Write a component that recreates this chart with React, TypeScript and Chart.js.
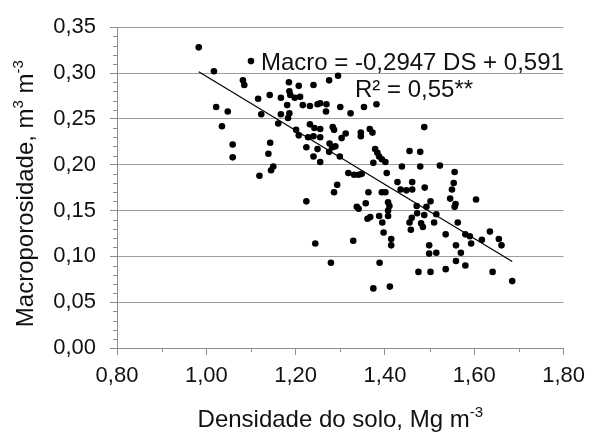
import React, { useEffect, useRef } from "react";
import { Chart, registerables } from "chart.js";

Chart.register(...registerables);

// Densidade do solo (Mg m-3)
const densidade = [
  0.983, 1.100, 1.017, 1.082, 1.085, 1.185, 1.207, 1.240, 1.275, 1.295,
  1.116, 1.142, 1.167, 1.186, 1.188, 1.198, 1.210, 1.181, 1.216, 1.232,
  1.249, 1.255, 1.269, 1.268, 1.022, 1.048, 1.123, 1.167, 1.186, 1.183,
  1.161, 1.035, 1.201, 1.207, 1.232, 1.242, 1.255, 1.283, 1.286, 1.228,
  1.240, 1.255, 1.224, 1.249, 1.240, 1.255, 1.276, 1.282, 1.289, 1.275,
  1.299, 1.059, 1.059, 1.143, 1.139, 1.150, 1.145, 1.119, 1.224, 1.244,
  1.279, 1.293, 1.286, 1.300, 1.323, 1.353, 1.381, 1.312, 1.303, 1.346,
  1.346, 1.366, 1.372, 1.488, 1.378, 1.383, 1.387, 1.393, 1.401, 1.374,
  1.455, 1.479, 1.404, 1.438, 1.479, 1.523, 1.556, 1.318, 1.331, 1.341,
  1.348, 1.428, 1.461, 1.489, 1.435, 1.448, 1.461, 1.363, 1.393, 1.401,
  1.357, 1.407, 1.410, 1.407, 1.337, 1.341, 1.471, 1.502, 1.493, 1.367,
  1.361, 1.387, 1.407, 1.394, 1.472, 1.460, 1.455, 1.488, 1.481, 1.485,
  1.458, 1.515, 1.510, 1.397, 1.329, 1.414, 1.414, 1.499, 1.499, 1.515,
  1.388, 1.475, 1.502, 1.374, 1.411, 1.554, 1.550, 1.546, 1.558, 1.556,
  1.604, 1.563, 1.536, 1.580, 1.590, 1.593, 1.617, 1.635, 1.655, 1.661,
  1.559, 1.570, 1.536, 1.559, 1.580, 1.641, 1.685,
];

// Macroporosidade (m3 m-3)
const macro = [
  0.328, 0.313, 0.302, 0.292, 0.287, 0.290, 0.286, 0.287, 0.292, 0.297,
  0.272, 0.276, 0.273, 0.280, 0.276, 0.273, 0.274, 0.265, 0.265, 0.264,
  0.266, 0.267, 0.266, 0.258, 0.263, 0.258, 0.255, 0.255, 0.256, 0.251,
  0.245, 0.242, 0.238, 0.232, 0.244, 0.240, 0.239, 0.241, 0.238, 0.230,
  0.231, 0.230, 0.219, 0.217, 0.209, 0.203, 0.223, 0.219, 0.220, 0.214,
  0.209, 0.222, 0.208, 0.224, 0.212, 0.198, 0.194, 0.188, 0.160, 0.114,
  0.093, 0.178, 0.170, 0.263, 0.256, 0.263, 0.266, 0.234, 0.229, 0.235,
  0.231, 0.239, 0.235, 0.241, 0.217, 0.213, 0.209, 0.206, 0.203, 0.202,
  0.215, 0.214, 0.191, 0.198, 0.198, 0.199, 0.192, 0.191, 0.189, 0.189,
  0.190, 0.181, 0.181, 0.175, 0.173, 0.172, 0.173, 0.170, 0.170, 0.170,
  0.158, 0.159, 0.155, 0.150, 0.154, 0.152, 0.155, 0.160, 0.154, 0.143,
  0.141, 0.144, 0.144, 0.137, 0.147, 0.142, 0.137, 0.145, 0.136, 0.132,
  0.129, 0.146, 0.137, 0.126, 0.117, 0.119, 0.112, 0.112, 0.103, 0.104,
  0.093, 0.083, 0.083, 0.065, 0.067, 0.180, 0.173, 0.163, 0.157, 0.154,
  0.162, 0.137, 0.124, 0.124, 0.122, 0.114, 0.118, 0.127, 0.119, 0.112,
  0.112, 0.104, 0.086, 0.095, 0.090, 0.083, 0.073,
];

// Linear trend: Macro = -0,2947 DS + 0,591
const trendSlope = -0.2947;
const trendIntercept = 0.591;

const xAxisRange = [0.8, 1.8];
const xAxisStep = 0.2;
const xMinorStep = 0.1;
const yAxisRange = [0, 0.35];
const yAxisStep = 0.05;
const yMinorStep = 0.01;

const equationLine = "Macro = -0,2947 DS + 0,591";
const r2Line = "R² = 0,55**";
const xTitleParts = [
  { t: "Densidade do solo, Mg m", sup: false },
  { t: "-3", sup: true },
];
const yTitleParts = [
  { t: "Macroporosidade, m", sup: false },
  { t: "3", sup: true },
  { t: " m", sup: false },
  { t: "-3", sup: true },
];

const FONT = '"Liberation Sans", Arial, sans-serif';
const AXIS_COLOR = "#8e8e8e";
const GRID_COLOR = "#9d9d9d";
const TEXT_COLOR = "#111111";

type Part = { t: string; sup: boolean };

function richWidth(ctx: CanvasRenderingContext2D, parts: Part[], size: number) {
  let w = 0;
  for (const p of parts) {
    ctx.font = `${p.sup ? Math.round(size * 0.62) : size}px ${FONT}`;
    w += ctx.measureText(p.t).width;
  }
  return w;
}

function drawRich(ctx: CanvasRenderingContext2D, parts: Part[], x: number, y: number, size: number) {
  let cx = x;
  for (const p of parts) {
    const s = p.sup ? Math.round(size * 0.62) : size;
    ctx.font = `${s}px ${FONT}`;
    ctx.fillText(p.t, cx, p.sup ? y - size * 0.4 : y);
    cx += ctx.measureText(p.t).width;
  }
}

const fmt = (v: number) => v.toFixed(2).replace(".", ",");

const decorPlugin = {
  id: "decor",
  afterDraw(chart: any) {
    const ctx: CanvasRenderingContext2D = chart.ctx;
    const xs = chart.scales.x;
    const ys = chart.scales.y;
    const a = chart.chartArea;
    ctx.save();
    // minor ticks
    ctx.strokeStyle = AXIS_COLOR;
    ctx.lineWidth = 1;
    const nY = Math.round((yAxisRange[1] - yAxisRange[0]) / yMinorStep);
    for (let i = 0; i <= nY; i++) {
      if (i % Math.round(yAxisStep / yMinorStep) === 0) continue;
      const py = Math.round(ys.getPixelForValue(yAxisRange[0] + i * yMinorStep)) + 0.5;
      ctx.beginPath();
      ctx.moveTo(a.left - 4, py);
      ctx.lineTo(a.left, py);
      ctx.stroke();
    }
    const nX = Math.round((xAxisRange[1] - xAxisRange[0]) / xMinorStep);
    for (let i = 0; i <= nX; i++) {
      if (i % Math.round(xAxisStep / xMinorStep) === 0) continue;
      const px = Math.round(xs.getPixelForValue(xAxisRange[0] + i * xMinorStep)) + 0.5;
      ctx.beginPath();
      ctx.moveTo(px, a.bottom);
      ctx.lineTo(px, a.bottom + 4);
      ctx.stroke();
    }

    ctx.fillStyle = TEXT_COLOR;
    ctx.textBaseline = "alphabetic";
    ctx.textAlign = "left";
    // x title
    const tSize = 24;
    const xw = richWidth(ctx, xTitleParts, tSize);
    drawRich(ctx, xTitleParts, (a.left + a.right) / 2 - xw / 2, a.bottom + 79, tSize);
    // y title
    const yw = richWidth(ctx, yTitleParts, tSize);
    ctx.save();
    ctx.translate(33, (a.top + a.bottom) / 2 + 6);
    ctx.rotate(-Math.PI / 2);
    drawRich(ctx, yTitleParts, -yw / 2, 0, tSize);
    ctx.restore();

    // equation
    ctx.font = `24px ${FONT}`;
    ctx.fillText(equationLine, a.left + 144, a.top + 43);
    ctx.fillText(r2Line, a.left + 238, a.top + 70);
    ctx.restore();
  },
};

export default function App() {
  const canvasRef = useRef<HTMLCanvasElement | null>(null);

  useEffect(() => {
    document.body.style.margin = "0";
    const canvas = canvasRef.current;
    if (!canvas) return;
    const n = Math.min(densidade.length, macro.length);
    const pts = [] as { x: number; y: number }[];
    for (let i = 0; i < n; i++) pts.push({ x: densidade[i], y: macro[i] });
    const xMin = Math.min(...densidade.slice(0, n));
    const xMax = Math.max(...densidade.slice(0, n));
    const trend = [
      { x: xMin, y: trendSlope * xMin + trendIntercept },
      { x: xMax, y: trendSlope * xMax + trendIntercept },
    ];

    const chart = new Chart(canvas, {
      type: "scatter",
      data: {
        datasets: [
          {
            type: "line",
            data: trend,
            borderColor: "#000",
            borderWidth: 1.2,
            pointRadius: 0,
            fill: false,
            order: 0,
          } as any,
          {
            data: pts,
            backgroundColor: "#000",
            borderWidth: 0,
            pointRadius: 3.3,
            order: 1,
          },
        ],
      },
      plugins: [decorPlugin],
      options: {
        responsive: false,
        animation: false,
        layout: { padding: { left: 0, right: 27, top: 22, bottom: 0 } },
        plugins: {
          legend: { display: false },
          tooltip: { enabled: false },
        },
        scales: {
          x: {
            type: "linear",
            min: xAxisRange[0],
            max: xAxisRange[1],
            afterFit: (s: any) => {
              s.height = 84;
            },
            ticks: {
              stepSize: xAxisStep,
              color: TEXT_COLOR,
              font: { family: FONT, size: 22 },
              padding: 8,
              maxRotation: 0,
              autoSkip: false,
              callback: (v: any) => fmt(Number(v)),
            },
            grid: {
              drawOnChartArea: false,
              drawTicks: true,
              tickLength: 7,
              tickColor: AXIS_COLOR,
            },
            border: { display: true, color: AXIS_COLOR, width: 1 },
          },
          y: {
            type: "linear",
            min: yAxisRange[0],
            max: yAxisRange[1],
            afterFit: (s: any) => {
              s.width = 117;
            },
            ticks: {
              stepSize: yAxisStep,
              color: TEXT_COLOR,
              font: { family: FONT, size: 22 },
              padding: 14,
              callback: (v: any) => fmt(Number(v)),
            },
            grid: {
              color: GRID_COLOR,
              lineWidth: 1,
              drawTicks: true,
              tickLength: 7,
              tickColor: AXIS_COLOR,
            },
            border: { display: true, color: AXIS_COLOR, width: 1 },
          },
        },
      },
    } as any);
    return () => chart.destroy();
  }, []);

  return (
    <div style={{ position: "absolute", left: 0, top: 0, width: 593, height: 432, background: "#fff" }}>
      <canvas ref={canvasRef} width={593} height={432} />
    </div>
  );
}
